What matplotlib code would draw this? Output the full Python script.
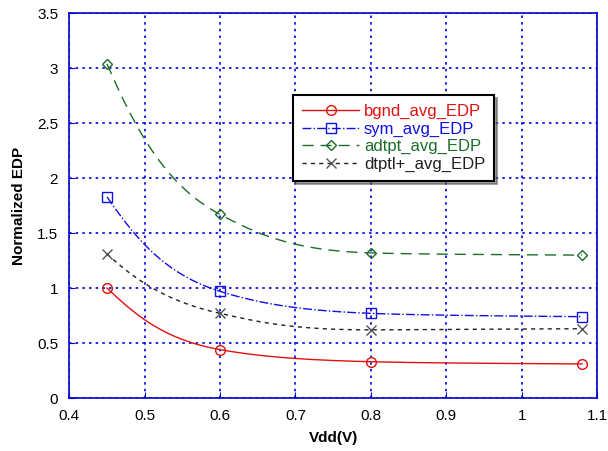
import numpy as np
import matplotlib
matplotlib.use("Agg")
import matplotlib.pyplot as plt

plt.rcParams["font.family"] = ["Liberation Sans", "DejaVu Sans"]

# data
vdd = [0.45, 0.6, 0.8, 1.08]
bgnd = [1.00, 0.44, 0.33, 0.31]
sym = [1.83, 0.97, 0.77, 0.74]
adtpt = [3.04, 1.67, 1.32, 1.30]
dtptl = [1.31, 0.77, 0.62, 0.63]
labels = ["bgnd_avg_EDP", "sym_avg_EDP", "adtpt_avg_EDP", "dtptl+_avg_EDP"]
x_ticks = [0.4, 0.5, 0.6, 0.7, 0.8, 0.9, 1, 1.1]
y_ticks = [0, 0.5, 1, 1.5, 2, 2.5, 3, 3.5]


def smooth(x, y, n=200):
    """Monotone cubic curve through the points (built in 1/x^3 space), for drawing only."""
    x = np.asarray(x, float)
    y = np.asarray(y, float)
    u = x ** -3.0
    order = np.argsort(u)
    u, yy = u[order], y[order]
    h = np.diff(u)
    d = np.diff(yy) / h
    m = np.zeros_like(yy)
    m[0], m[-1] = d[0], d[-1]
    for i in range(1, len(u) - 1):
        if d[i - 1] * d[i] > 0:
            w1 = 2 * h[i] + h[i - 1]
            w2 = h[i] + 2 * h[i - 1]
            m[i] = (w1 + w2) / (w1 / d[i - 1] + w2 / d[i])
    xs = np.linspace(x.min(), x.max(), n)
    us = xs ** -3.0
    k = np.clip(np.searchsorted(u, us) - 1, 0, len(u) - 2)
    t = (us - u[k]) / h[k]
    ys = ((2 * t**3 - 3 * t**2 + 1) * yy[k] + (t**3 - 2 * t**2 + t) * h[k] * m[k]
          + (-2 * t**3 + 3 * t**2) * yy[k + 1] + (t**3 - t**2) * h[k] * m[k + 1])
    return xs, ys


fig = plt.figure(figsize=(6.08, 4.51), dpi=100)
ax = fig.add_axes([0.114, 0.1175, 0.868, 0.853])

styles = [
    dict(color="#e01010", ls="-", marker="o", ms=7, dashes=None),
    dict(color="#1010e0", ls="-.", marker="s", ms=7, dashes=None),
    dict(color="#1a6e2a", ls="--", marker="D", ms=5, dashes=(8, 5)),
    dict(color="#202020", ls="--", marker="x", ms=7, dashes=(3, 3)),
]
series = [bgnd, sym, adtpt, dtptl]

for y, lab, st in zip(series, labels, styles):
    xs, ys = smooth(vdd, y)
    kw = dict(color=st["color"], lw=1.0, ls=st["ls"])
    if st["dashes"]:
        kw["dashes"] = st["dashes"]
    mec = "#555555" if st["marker"] == "x" else st["color"]
    ax.plot(xs, ys, **kw)
    ax.plot(vdd, y, ls="none", marker=st["marker"], ms=st["ms"],
            mfc="none", mec=mec, mew=1.0)
    # proxy for the legend
    ax.plot([], [], marker=st["marker"], ms=st["ms"], mfc="none", mec=mec,
            label=lab, **kw)

ax.set_xlim(0.4, 1.1)
ax.set_ylim(0, 3.5)
ax.set_xticks(x_ticks)
ax.set_xticklabels(["0.4", "0.5", "0.6", "0.7", "0.8", "0.9", "1", "1.1"])
ax.set_yticks(y_ticks)
ax.set_yticklabels(["0", "0.5", "1", "1.5", "2", "2.5", "3", "3.5"])
ax.tick_params(direction="in", color="#0000d0", length=4, labelsize=11, pad=8)

for s in ax.spines.values():
    s.set_color("#0000d0")
    s.set_linewidth(1.2)
ax.grid(True, color="#0000e0", ls=(0, (1.5, 2.5)), lw=1.2)

ax.set_xlabel("Vdd(V)", fontsize=11, fontweight="bold", labelpad=6)
ax.set_ylabel("Normalized EDP", fontsize=11, fontweight="bold", labelpad=8)

leg = ax.legend(loc="upper left", bbox_to_anchor=(0.424, 0.788), fontsize=12,
                fancybox=False, shadow=True, framealpha=1, edgecolor="black",
                handlelength=3.4, handletextpad=0.3, borderpad=0.55,
                labelspacing=0.15, borderaxespad=0)
leg.get_frame().set_linewidth(1.5)
for txt, st in zip(leg.get_texts(), styles):
    txt.set_color(st["color"])

fig.savefig("out.png", dpi=100)
